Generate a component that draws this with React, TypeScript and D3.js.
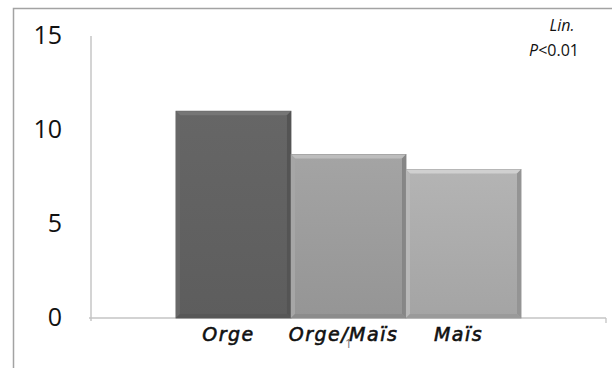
import React from "react";
import * as d3 from "d3";

const series = ["Orge", "Orge/Maïs", "Maïs"];
const values = [11.0, 8.7, 7.9];
const categories = ["1"];
const yTicks = [0, 5, 10, 15];
const barColors = ["#616161", "#9b9b9b", "#ababab"];

const W = 612;
const H = 368;
const plot = { left: 91, right: 606, top: 36, bottom: 318 };

export default function App() {
  const y = d3.scaleLinear().domain([0, 15]).range([plot.bottom, plot.top]);
  const cat = d3
    .scaleBand<string>()
    .domain(categories)
    .range([plot.left, plot.right])
    .paddingInner(0)
    .paddingOuter(0);
  const catStart = cat(categories[0]) as number;
  const catW = cat.bandwidth();
  const groupW = catW * 0.67;
  const inner = d3
    .scaleBand<string>()
    .domain(series)
    .range([catStart + (catW - groupW) / 2, catStart + (catW + groupW) / 2])
    .padding(0);
  const bw = inner.bandwidth();
  const bev = 4;

  return (
    <svg
      width={W}
      height={H}
      style={{ position: "absolute", left: 0, top: 0, background: "#fff" }}
      fontFamily="'Open Sans', 'Noto Sans', sans-serif"
    >
      <defs>
        {barColors.map((c, i) => {
          const base = d3.color(c)!;
          return (
            <linearGradient key={i} id={`g${i}`} x1="0" y1="0" x2="0" y2="1">
              <stop offset="0%" stopColor={base.brighter(0.15).toString()} />
              <stop offset="100%" stopColor={base.darker(0.12).toString()} />
            </linearGradient>
          );
        })}
      </defs>

      {/* outer frame */}
      <path d={`M13.5,${H} V8.5 H${W}`} fill="none" stroke="#a3a3a3" strokeWidth={1.5} />

      {/* axes */}
      <line x1={plot.left} x2={plot.left} y1={plot.top} y2={plot.bottom + 3} stroke="#bdbdbd" strokeWidth={1.3} />
      <line x1={plot.left - 2} x2={plot.right} y1={plot.bottom} y2={plot.bottom} stroke="#c4c4c4" strokeWidth={1.3} />
      <line x1={plot.right} x2={plot.right} y1={plot.bottom} y2={plot.bottom + 5} stroke="#c4c4c4" strokeWidth={1.3} />

      {/* y tick labels */}
      {yTicks.map((t) => (
        <text key={t} x={62} y={y(t) - 1} dy="0.36em" textAnchor="end" fontSize={25} fill="#111">
          {t}
        </text>
      ))}

      {/* bars with bevel */}
      {series.map((s, i) => {
        const x0 = inner(s) as number;
        const x1 = x0 + bw;
        const y0 = y(values[i]);
        const y1 = y(0);
        const base = d3.color(barColors[i])!;
        return (
          <g key={s}>
            <rect x={x0} y={y0} width={bw} height={y1 - y0} fill={`url(#g${i})`} stroke={base.darker(0.5).toString()} strokeWidth={0.8} />
            <polygon
              points={`${x0},${y0} ${x1},${y0} ${x1 - bev},${y0 + bev} ${x0 + bev},${y0 + bev}`}
              fill={base.brighter(0.55).toString()}
            />
            <polygon
              points={`${x0},${y0} ${x0 + bev},${y0 + bev} ${x0 + bev},${y1 - bev} ${x0},${y1}`}
              fill={base.brighter(0.2).toString()}
            />
            <polygon
              points={`${x1},${y0} ${x1},${y1} ${x1 - bev},${y1 - bev} ${x1 - bev},${y0 + bev}`}
              fill={base.darker(0.4).toString()}
            />
            <polygon
              points={`${x0},${y1} ${x1},${y1} ${x1 - bev},${y1 - bev} ${x0 + bev},${y1 - bev}`}
              fill={base.darker(0.3).toString()}
            />
          </g>
        );
      })}

      {/* series labels */}
      {series.map((s) => (
        <text
          key={s}
          x={(inner(s) as number) + bw / 2 - 5}
          y={341}
          textAnchor="middle"
          fontSize={19}
          fontStyle="italic"
          fontFamily="'DejaVu Sans', sans-serif"
          fill="#111"
          stroke="#111"
          strokeWidth={0.6}
          letterSpacing={1.5}
        >
          {s}
        </text>
      ))}

      {/* category label */}
      <text x={catStart + catW / 2} y={348} textAnchor="middle" fontSize={12} fill="#777">
        {categories[0]}
      </text>

      {/* test annotation */}
      <text x={562} y={25} dy="0.35em" textAnchor="middle" fontSize={16} fontStyle="italic" fill="#111">
        Lin.
      </text>
      <text x={554} y={50} dy="0.35em" textAnchor="middle" fontSize={16} fill="#111">
        <tspan fontStyle="italic">P</tspan>&lt;0.01
      </text>
    </svg>
  );
}
